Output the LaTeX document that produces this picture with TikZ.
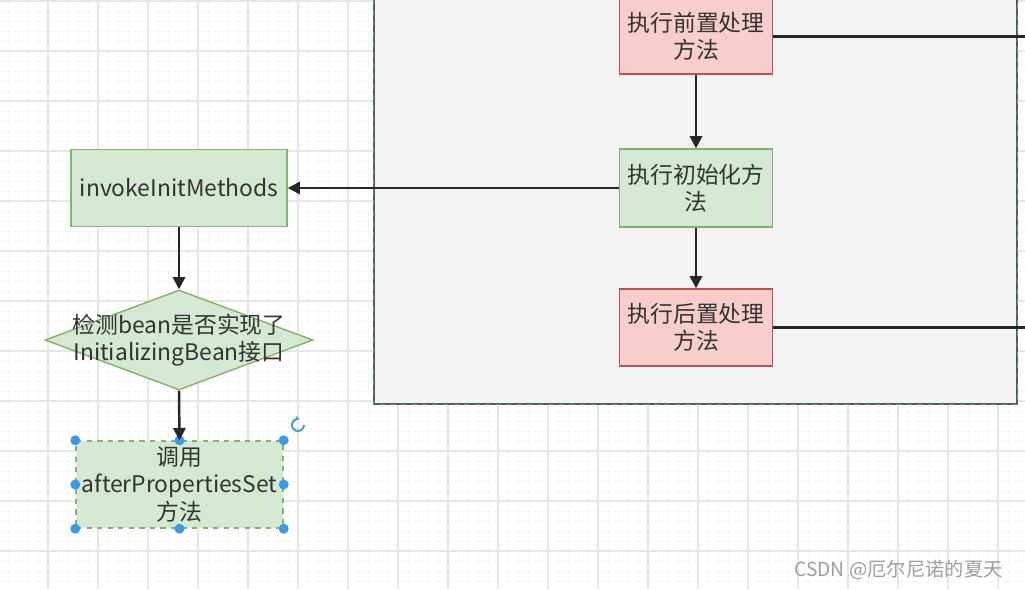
\documentclass[tikz,border=0pt]{standalone}
\usepackage{fontspec}
\setmainfont{Noto Sans CJK SC}
\usepackage{xcolor}
\usetikzlibrary{arrows.meta, shapes.geometric, positioning}
\definecolor{prefill}{HTML}{F8CECC}
\definecolor{predraw}{HTML}{B85450}
\definecolor{initfill}{HTML}{D5E8D4}
\definecolor{initdraw}{HTML}{82B366}
\definecolor{panelfill}{HTML}{F3F3F3}
\definecolor{panelteal}{HTML}{4A9EA8}
\definecolor{handleblue}{HTML}{3B99E8}
\definecolor{gridmajor}{HTML}{E6E6E6}
\definecolor{gridminor}{HTML}{F8F8F8}

\begin{document}
\begin{tikzpicture}[x=0.02cm, y=-0.02cm,
  every node/.style={font=\fontsize{13}{15.5}\selectfont, text=black!80},
  stepbox/.style={draw=initdraw, fill=initfill, line width=0.8pt,
                  minimum width=3.06cm, minimum height=1.54cm,
                  align=center, inner sep=2pt},
  ppbox/.style={stepbox, draw=predraw, fill=prefill},
  decision/.style={diamond, draw=initdraw, fill=initfill, line width=0.8pt,
                   minimum width=5.36cm, minimum height=2cm, inner sep=0pt},
  handle/.style={circle, fill=handleblue, inner sep=0pt, minimum size=0.2cm},
  arr/.style={-{Triangle[length=7pt, width=7pt]}, line width=1.4pt, black!85},
  ln/.style={line width=1.4pt, black!85},
]

%% ── CANVAS + GRID ─────────────────────────────────────────────────────
\useasboundingbox (0,0) rectangle (1025,589);
\fill[white] (0,0) rectangle (1025,589);
\foreach \gx in {8,18,...,1018}
  \draw[gridminor, line width=0.4pt] (\gx,0) -- (\gx,589);
\foreach \gy in {1,11,...,581}
  \draw[gridminor, line width=0.4pt] (0,\gy) -- (1025,\gy);
\foreach \gx in {48,98,...,998}
  \draw[gridmajor, line width=0.8pt] (\gx,0) -- (\gx,589);
\foreach \gy in {1,51,...,551}
  \draw[gridmajor, line width=0.8pt] (0,\gy) -- (1025,\gy);

%% ── PANEL ─────────────────────────────────────────────────────────────
\node[draw=gray!70!black, fill=panelfill, line width=0.8pt,
      minimum width=12.86cm, minimum height=8.28cm]
  (panel) at (695.5,197) {};
\draw[panelteal, dashed, line width=0.6pt]
  (panel.north west) rectangle (panel.south east);
\coordinate (rightedge) at (1025,0);

%% ── STEPS IN PANEL ────────────────────────────────────────────────────
\node[ppbox, minimum height=1.5cm] (pre)  at (696,36.5) {执行前置处理\\方法};
\node[stepbox, minimum height=1.56cm] (init) at (696,188) {执行初始化方\\法};
\node[ppbox] (post) at (696,327.5) {执行后置处理\\方法};

%% ── LEFT CHAIN ────────────────────────────────────────────────────────
\node[stepbox, minimum width=4.32cm] (invoke) at (179,188) {invokeInitMethods};
\node[decision,
      label={[align=center]center:{检测bean是否实现了\\InitializingBean接口}}]
  (check) at (179,340) {};
\node[stepbox, dashed, minimum width=4.14cm, minimum height=1.74cm, inner sep=0pt]
  (call) at (179.5,484.5) {调用\\afterPropertiesSet\\方法};

%% selection handles
\foreach \an in {north west, north, north east, west, east,
                 south west, south, south east}
  \node[handle] at (call.\an) {};
\draw[handleblue, line width=1.1pt, -{Stealth[length=3pt]}]
  (304,425) arc[start angle=0, end angle=290, radius=6];

%% ── WATERMARK ─────────────────────────────────────────────────────────
\node[anchor=east, text=gray!75, font=\fontsize{11}{13}\selectfont]
  (mark) at (1009,570) {CSDN @厄尔尼诺的夏天};

%% ── ARROWS ────────────────────────────────────────────────────────────
\draw[arr] (pre.south) -- (init.north);
\draw[arr] (init.south) -- (post.north);
\draw[ln] (pre.east) -- (pre.east -| rightedge);
\draw[ln] (post.east) -- (post.east -| rightedge);
\draw[arr] (init.west) -- (invoke.east);
\draw[arr] (invoke.south) -- (check.north);
\draw[arr] (check.south) -- (call.north);

\end{tikzpicture}
\end{document}
